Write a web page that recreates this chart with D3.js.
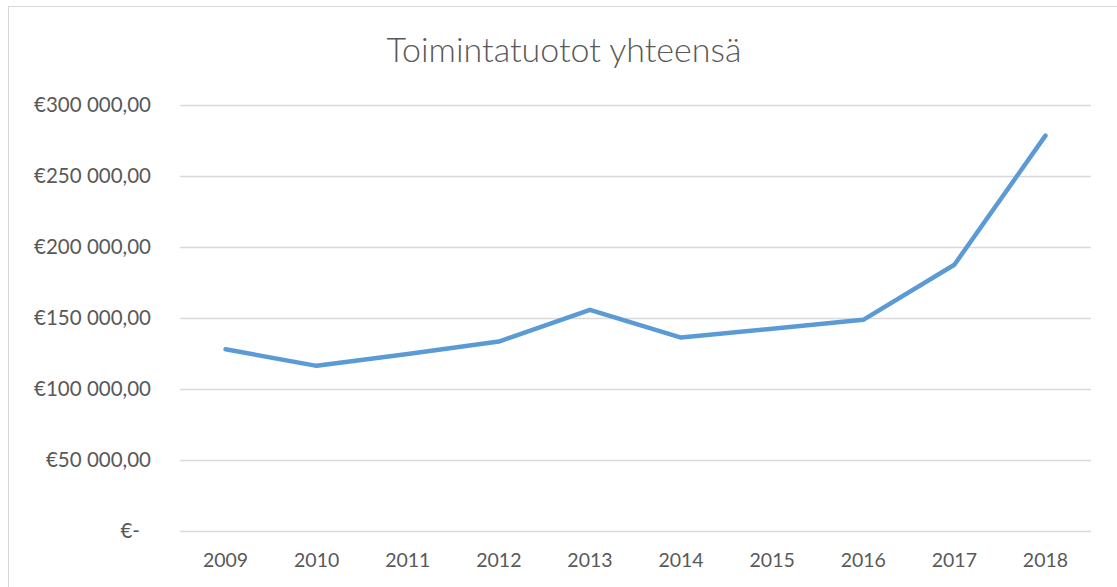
<!DOCTYPE html>
<html>
<head>
<meta charset="utf-8">
<script src="https://cdn.jsdelivr.net/npm/d3@7"></script>
<style>
  body { margin: 0; background: #fff; }
  text { font-family: Lato, "Open Sans", sans-serif; fill: #595959; }
</style>
</head>
<body>
<svg id="chart" width="1117" height="587"></svg>
<script>
const title = 'Toimintatuotot yhteensä';
const years = ['2009', '2010', '2011', '2012', '2013', '2014', '2015', '2016', '2017', '2018'];
const revenue = [128000, 116300, 124700, 133400, 155700, 136200, 142500, 148700, 187500, 278400];
const yTicks = [0, 50000, 100000, 150000, 200000, 250000, 300000];

const svg = d3.select('#chart');
const margin = { left: 180, right: 1091, top: 105, bottom: 531 };

// chart frame
svg.append('rect')
  .attr('x', 8.5)
  .attr('y', 6.5)
  .attr('width', 1120)
  .attr('height', 600)
  .style('fill', 'none')
  .style('stroke', '#d9d9d9')
  .style('stroke-width', 1);

svg.append('text')
  .attr('x', 564)
  .attr('y', 62)
  .attr('text-anchor', 'middle')
  .style('font-size', '34px')
  .style('font-weight', 300)
  .text(title);

const xScale = d3.scaleBand()
  .domain(years)
  .range([margin.left, margin.right]);

const yScale = d3.scaleLinear()
  .domain([0, 300000])
  .range([margin.bottom, margin.top]);

const fmt = v => v === 0 ? '€-' : '€' + d3.format(',.2f')(v).replace(/,/g, ' ').replace('.', ',');

// gridlines + y labels
const yAxis = svg.append('g')
  .attr('transform', `translate(${margin.left}, 0)`)
  .call(d3.axisLeft(yScale)
    .tickValues(yTicks)
    .tickSize(-(margin.right - margin.left))
    .tickPadding(29)
    .tickFormat(fmt));

yAxis.select('.domain').remove();
yAxis.selectAll('.tick line')
  .style('stroke', '#d9d9d9')
  .style('stroke-width', 1.3);
yAxis.selectAll('.tick text')
  .style('font-size', '20.5px')
  .style('fill', '#595959')
  .style('font-family', 'Lato, sans-serif')
  .attr('dx', d => d === 0 ? -11 : 0);

// x labels
const xAxis = svg.append('g')
  .attr('transform', `translate(0, ${margin.bottom})`)
  .call(d3.axisBottom(xScale).tickSize(0).tickPadding(22));

xAxis.select('.domain').remove();
xAxis.selectAll('.tick text')
  .style('font-size', '19.5px')
  .style('fill', '#595959')
  .style('font-family', 'Lato, sans-serif');

const line = d3.line()
  .x((d, i) => xScale(years[i]) + xScale.bandwidth() / 2)
  .y(d => yScale(d));

svg.append('path')
  .datum(revenue)
  .attr('d', line)
  .style('fill', 'none')
  .style('stroke', '#5b9bd5')
  .style('stroke-width', 4.5)
  .style('stroke-linecap', 'round')
  .style('stroke-linejoin', 'round');
</script>
</body>
</html>
